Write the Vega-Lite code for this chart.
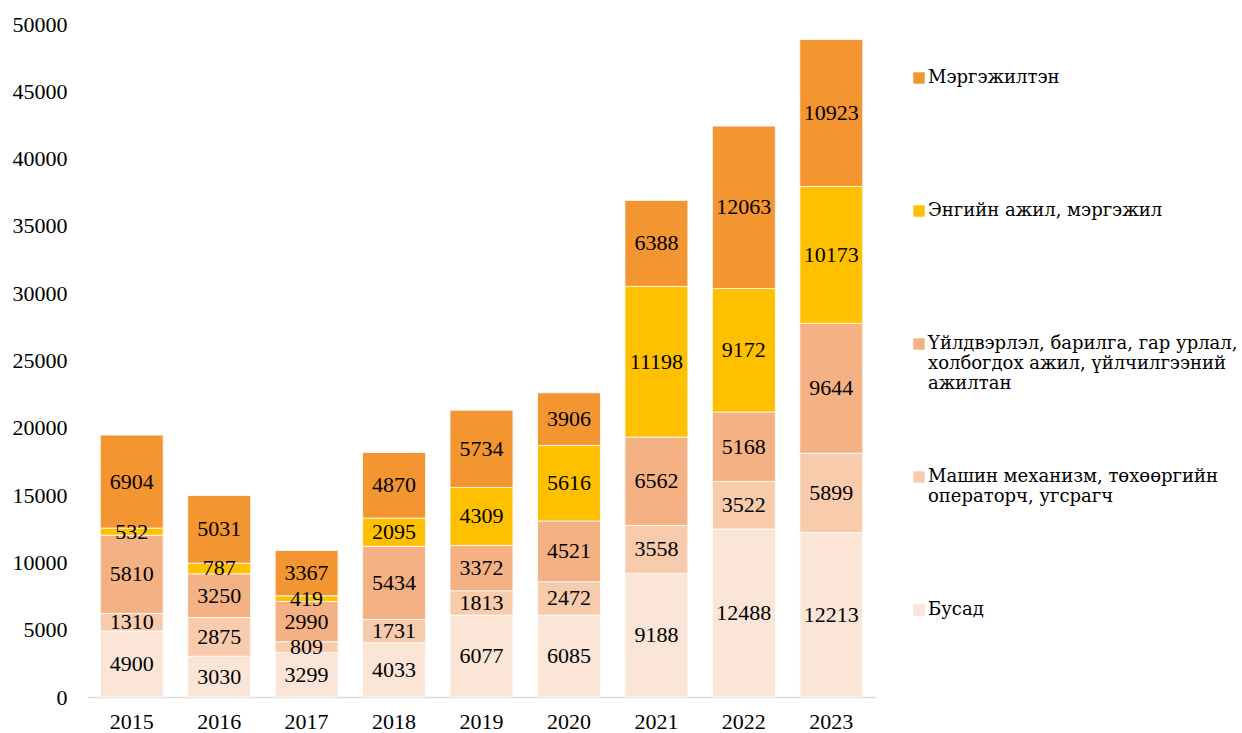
{
  "$schema": "https://vega.github.io/schema/vega-lite/v6.json",
  "autosize": {"type": "none"},
  "padding": {"left": 88, "top": 24, "right": 367, "bottom": 36},
  "width": 787,
  "height": 673,
  "background": "white",
  "config": {
    "view": {"stroke": null},
    "font": "Liberation Serif"
  },
  "data": {
    "values": [
      {"year": "2015", "cat": "Бусад", "k": 1, "v": 4900},
      {"year": "2015", "cat": "Машин", "k": 2, "v": 1310},
      {"year": "2015", "cat": "Үйлдвэрлэл", "k": 3, "v": 5810},
      {"year": "2015", "cat": "Энгийн ажил, мэргэжил", "k": 4, "v": 532},
      {"year": "2015", "cat": "Мэргэжилтэн", "k": 5, "v": 6904},
      {"year": "2016", "cat": "Бусад", "k": 1, "v": 3030},
      {"year": "2016", "cat": "Машин", "k": 2, "v": 2875},
      {"year": "2016", "cat": "Үйлдвэрлэл", "k": 3, "v": 3250},
      {"year": "2016", "cat": "Энгийн ажил, мэргэжил", "k": 4, "v": 787},
      {"year": "2016", "cat": "Мэргэжилтэн", "k": 5, "v": 5031},
      {"year": "2017", "cat": "Бусад", "k": 1, "v": 3299},
      {"year": "2017", "cat": "Машин", "k": 2, "v": 809},
      {"year": "2017", "cat": "Үйлдвэрлэл", "k": 3, "v": 2990},
      {"year": "2017", "cat": "Энгийн ажил, мэргэжил", "k": 4, "v": 419},
      {"year": "2017", "cat": "Мэргэжилтэн", "k": 5, "v": 3367},
      {"year": "2018", "cat": "Бусад", "k": 1, "v": 4033},
      {"year": "2018", "cat": "Машин", "k": 2, "v": 1731},
      {"year": "2018", "cat": "Үйлдвэрлэл", "k": 3, "v": 5434},
      {"year": "2018", "cat": "Энгийн ажил, мэргэжил", "k": 4, "v": 2095},
      {"year": "2018", "cat": "Мэргэжилтэн", "k": 5, "v": 4870},
      {"year": "2019", "cat": "Бусад", "k": 1, "v": 6077},
      {"year": "2019", "cat": "Машин", "k": 2, "v": 1813},
      {"year": "2019", "cat": "Үйлдвэрлэл", "k": 3, "v": 3372},
      {"year": "2019", "cat": "Энгийн ажил, мэргэжил", "k": 4, "v": 4309},
      {"year": "2019", "cat": "Мэргэжилтэн", "k": 5, "v": 5734},
      {"year": "2020", "cat": "Бусад", "k": 1, "v": 6085},
      {"year": "2020", "cat": "Машин", "k": 2, "v": 2472},
      {"year": "2020", "cat": "Үйлдвэрлэл", "k": 3, "v": 4521},
      {"year": "2020", "cat": "Энгийн ажил, мэргэжил", "k": 4, "v": 5616},
      {"year": "2020", "cat": "Мэргэжилтэн", "k": 5, "v": 3906},
      {"year": "2021", "cat": "Бусад", "k": 1, "v": 9188},
      {"year": "2021", "cat": "Машин", "k": 2, "v": 3558},
      {"year": "2021", "cat": "Үйлдвэрлэл", "k": 3, "v": 6562},
      {"year": "2021", "cat": "Энгийн ажил, мэргэжил", "k": 4, "v": 11198},
      {"year": "2021", "cat": "Мэргэжилтэн", "k": 5, "v": 6388},
      {"year": "2022", "cat": "Бусад", "k": 1, "v": 12488},
      {"year": "2022", "cat": "Машин", "k": 2, "v": 3522},
      {"year": "2022", "cat": "Үйлдвэрлэл", "k": 3, "v": 5168},
      {"year": "2022", "cat": "Энгийн ажил, мэргэжил", "k": 4, "v": 9172},
      {"year": "2022", "cat": "Мэргэжилтэн", "k": 5, "v": 12063},
      {"year": "2023", "cat": "Бусад", "k": 1, "v": 12213},
      {"year": "2023", "cat": "Машин", "k": 2, "v": 5899},
      {"year": "2023", "cat": "Үйлдвэрлэл", "k": 3, "v": 9644},
      {"year": "2023", "cat": "Энгийн ажил, мэргэжил", "k": 4, "v": 10173},
      {"year": "2023", "cat": "Мэргэжилтэн", "k": 5, "v": 10923}
    ]
  },
  "encoding": {
    "x": {
      "field": "year", "type": "nominal", "title": null,
      "scale": {"paddingInner": 0.28, "paddingOuter": 0.14},
      "axis": {
        "labelAngle": 0, "labelFont": "Liberation Serif", "labelFontSize": 22,
        "labelColor": "#000000", "ticks": false, "labelPadding": 14,
        "domainColor": "#D9D9D9", "domainWidth": 1.5
      }
    }
  },
  "layer": [
    {
      "mark": {"type": "bar", "stroke": "white", "strokeWidth": 0.8},
      "encoding": {
        "y": {
          "field": "v", "type": "quantitative", "stack": "zero", "title": null,
          "scale": {"domain": [0, 50000], "nice": false},
          "axis": {
            "values": [0, 5000, 10000, 15000, 20000, 25000, 30000, 35000, 40000, 45000, 50000],
            "format": "d",
            "grid": false, "domain": false, "ticks": false, "labelPadding": 21,
            "labelFont": "Liberation Serif", "labelFontSize": 22, "labelColor": "#000000"
          }
        },
        "order": {"field": "k", "type": "quantitative", "sort": "ascending"},
        "color": {
          "field": "cat", "type": "nominal", "title": null,
          "scale": {
            "domain": ["Мэргэжилтэн", "Энгийн ажил, мэргэжил", "Үйлдвэрлэл", "Машин", "Бусад"],
            "range": ["#F39530", "#FFC000", "#F4B183", "#F8CBAD", "#FBE5D6"]
          },
          "legend": {
            "orient": "none", "legendX": 822, "legendY": 45,
            "symbolType": "square", "symbolSize": 130, "symbolStrokeWidth": 0,
            "labelFont": "DejaVu Serif", "labelFontSize": 18, "labelColor": "#000000",
            "labelLimit": 400, "labelOffset": 0, "rowPadding": 75,
            "labelExpr": "datum.label === 'Үйлдвэрлэл' ? ['Үйлдвэрлэл, барилга, гар урлал,', 'холбогдох ажил, үйлчилгээний', 'ажилтан'] : datum.label === 'Машин' ? ['Машин механизм,  төхөөргийн', 'операторч, угсрагч', ''] : [datum.label, '', '']"
          }
        }
      }
    },
    {
      "transform": [
        {"stack": "v", "groupby": ["year"], "sort": [{"field": "k", "order": "ascending"}], "as": ["y0", "y1"]},
        {"calculate": "(datum.y0 + datum.y1) / 2", "as": "ymid"}
      ],
      "mark": {"type": "text", "font": "Liberation Serif", "fontSize": 22, "color": "#000000", "baseline": "middle"},
      "encoding": {
        "y": {"field": "ymid", "type": "quantitative"},
        "text": {"field": "v", "type": "quantitative", "format": "d"}
      }
    }
  ]
}
